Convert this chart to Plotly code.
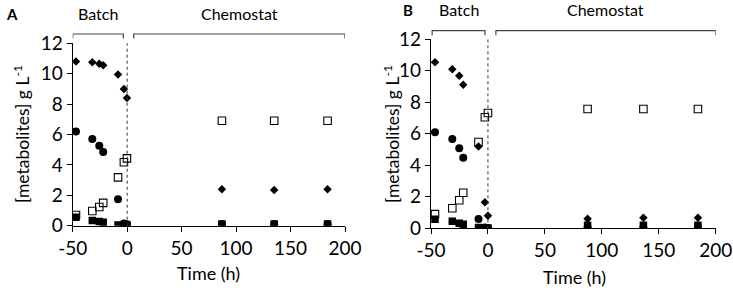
import plotly.graph_objects as go

# ---- data ----
time_a = [-47, -32, -25.6, -22, -8.4, -3, -0.2, 87, 135, 184]
glucose_a = [10.8, 10.75, 10.65, 10.55, 9.95, 9.0, 8.4, 2.4, 2.35, 2.4]        # diamonds
circle_a = [6.2, 5.7, 5.26, 4.85, 1.74, 0.15, 0.1, 0.1, 0.1, 0.1]               # filled circles
open_sq_a = [0.7, 0.97, 1.23, 1.5, 3.18, 4.17, 4.43, 6.9, 6.9, 6.9]            # open squares
filled_sq_a = [0.55, 0.35, 0.28, 0.22, 0.05, 0.05, 0.05, 0.12, 0.12, 0.12]      # filled squares

time_b = [-46.5, -31.3, -25.2, -21.7, -8.3, -2.7, 0, 87.5, 136.5, 184.4]
glucose_b = [10.54, 10.1, 9.69, 9.12, 5.2, 1.65, 0.8, 0.6, 0.67, 0.67]
circle_b = [6.1, 5.67, 5.08, 4.48, 0.59, 0.05, 0.02, 0.05, 0.05, 0.05]
open_sq_b = [0.9, 1.27, 1.78, 2.26, 5.48, 7.05, 7.32, 7.57, 7.57, 7.57]
filled_sq_b = [0.57, 0.44, 0.32, 0.25, 0.05, 0.02, 0.02, 0.2, 0.2, 0.2]

phases = ["Batch", "Chemostat"]
phase_start_a = [-50, 6]
phase_end_a = [-3.5, 200]
phase_start_b = [-49, 7]
phase_end_b = [-2.6, 200]

x_ticks = [-50, 0, 50, 100, 150, 200]
x_tick_text = ["-50", "0", "50", "100", "150", "200"]
y_ticks = [0, 2, 4, 6, 8, 10, 12]

FONT = "Lato"
W, H = 733, 290

fig = go.Figure()

def add_panel(t, dia, cir, osq, fsq, xa, ya):
    fig.add_trace(go.Scatter(x=t, y=osq, mode="markers", xaxis=xa, yaxis=ya,
                             marker=dict(symbol="square-open", size=7.5, color="black",
                                         line=dict(width=1.1, color="black"))))
    fig.add_trace(go.Scatter(x=t, y=fsq, mode="markers", xaxis=xa, yaxis=ya,
                             marker=dict(symbol="square", size=7.5, color="black")))
    fig.add_trace(go.Scatter(x=t, y=cir, mode="markers", xaxis=xa, yaxis=ya,
                             marker=dict(symbol="circle", size=8, color="black")))
    fig.add_trace(go.Scatter(x=t, y=dia, mode="markers", xaxis=xa, yaxis=ya,
                             marker=dict(symbol="diamond", size=6.5, color="black")))

add_panel(time_a, glucose_a, circle_a, open_sq_a, filled_sq_a, "x", "y")
add_panel(time_b, glucose_b, circle_b, open_sq_b, filled_sq_b, "x2", "y2")

axis_common = dict(showgrid=False, zeroline=False, showline=True, linecolor="black",
                   linewidth=1.2, ticks="outside", ticklen=5, tickwidth=1.2, tickcolor="black",
                   automargin=False,
                   tickfont=dict(family=FONT, size=19, color="black"))

fig.update_layout(
    template="none",
    width=W, height=H, margin=dict(l=0, r=0, t=0, b=0, pad=0),
    paper_bgcolor="white", plot_bgcolor="white", showlegend=False,
    xaxis=dict(domain=[72.7 / W, 345 / W], range=[-50, 200], tickvals=x_ticks,
               ticktext=x_tick_text, anchor="y", **axis_common),
    yaxis=dict(domain=[1 - 225.7 / H, 1 - 43.3 / H], range=[0, 12], tickvals=y_ticks,
               anchor="x", **axis_common),
    xaxis2=dict(domain=[431 / W, 715.7 / W], range=[-50, 200], tickvals=x_ticks,
                ticktext=x_tick_text, anchor="y2", **axis_common),
    yaxis2=dict(domain=[1 - 228.3 / H, 1 - 39.3 / H], range=[0, 12], tickvals=y_ticks,
                anchor="x2", **axis_common),
)

# dotted lines at t=0
for xr, yr in [("x", "y"), ("x2", "y2")]:
    fig.add_shape(type="line", xref=xr, yref=yr, x0=0, x1=0, y0=0, y1=12.4,
                  line=dict(color="#333333", width=1, dash="dot"))

def label(x, y, text, size, xref="paper", angle=0):
    fig.add_annotation(x=x, y=y, xref=xref, yref="paper", text=text, showarrow=False,
                       xanchor="center", yanchor="middle", textangle=angle,
                       font=dict(family=FONT, size=size, color="black"))

# brackets
def add_brackets(xr, starts, ends, ytop, ybot, label_y):
    for name, s, e in zip(phases, starts, ends):
        fig.add_shape(type="path", xref=xr, yref="paper",
                      path=f"M {s},{ybot} L {s},{ytop} L {e},{ytop} L {e},{ybot}",
                      line=dict(color="#444444", width=1.2))
        label((s + e) / 2, label_y, name, 16, xref=xr)

add_brackets("x", phase_start_a, phase_end_a, 1 - 34 / H, 1 - 38.5 / H, 1 - 14 / H)
add_brackets("x2", phase_start_b, phase_end_b, 1 - 30.7 / H, 1 - 35.2 / H, 1 - 10 / H)

# panel letters
label(12 / W, 1 - 14 / H, "<b>A</b>", 15)
label(408 / W, 1 - 10 / H, "<b>B</b>", 15)

# axis titles
ytitle = "[metabolites] g L<sup>-1</sup>"
label(21 / W, 1 - 134 / H, ytitle, 17.5, angle=-90)
label(391 / W, 1 - 134 / H, ytitle, 17.5, angle=-90)
label(208 / W, 1 - 272.7 / H, "Time (h)", 18)
label(574 / W, 1 - 276.7 / H, "Time (h)", 18)

fig.write_html("out.html", config={"displayModeBar": False},
               post_script="document.body.style.margin='0';document.body.style.overflow='hidden';")
